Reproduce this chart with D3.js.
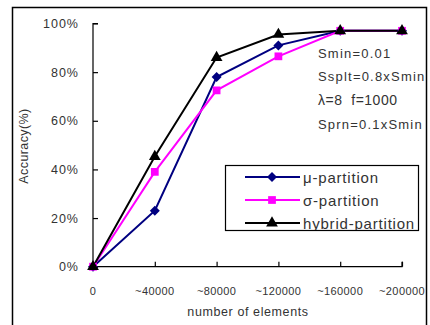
<!DOCTYPE html>
<html>
<head>
<meta charset="utf-8">
<script src="https://cdn.jsdelivr.net/npm/d3@7"></script>
<style>
  html, body { margin: 0; padding: 0; background: #fff; }
  svg { display: block; font-family: "Liberation Sans", Arial, sans-serif; }
  text { white-space: pre; }
</style>
</head>
<body>
<svg id="chart" width="430" height="325"></svg>
<script>
// Categories along the x axis and accuracy (%) per partition scheme
const categories = ["0", "~40000", "~80000", "~120000", "~160000", "~200000"];
const muValues = [0, 23, 78, 91, 97, 97];
const sigmaValues = [0, 39, 72.5, 86.5, 97, 97];
const hybridValues = [0, 45.3, 86, 95.5, 97, 97];
const yTicks = [0, 20, 40, 60, 80, 100];
const seriesNames = ["μ-partition", "σ-partition", "hybrid-partition"];
const notes = ["Smin=0.01", "Ssplt=0.8xSmin", "λ=8  f=1000", "Sprn=0.1xSmin"];

const svg = d3.select("#chart");

// Outer frame
svg.append("rect")
  .attr("x", 12.5).attr("y", 7.5).attr("width", 414).attr("height", 330)
  .attr("fill", "none").attr("stroke", "#000").attr("stroke-width", 1.5);

const x = d3.scalePoint().domain(categories).range([93, 402]);
const y = d3.scaleLinear().domain([0, 100]).range([266.7, 23.5]);

// Y axis, ticks pointing into the plot
const yAxis = svg.append("g").attr("transform", "translate(93,0)")
  .call(d3.axisRight(y).tickValues(yTicks).tickSize(5).tickFormat(""));
yAxis.select(".domain").attr("d", `M5,${y(100)}H0V${y(0)}`);
yAxis.selectAll("line, path").attr("stroke", "#000").attr("stroke-width", 1.2);

svg.append("g").selectAll("text").data(yTicks).join("text")
  .attr("x", 79).attr("y", d => y(d)).attr("dy", "0.36em")
  .attr("text-anchor", "end").attr("font-size", 12.5)
  .attr("letter-spacing", 1).attr("fill", "#333")
  .text(d => d + "%");

// X axis, ticks pointing up into the plot
const xAxis = svg.append("g").attr("transform", `translate(0,${y(0)})`)
  .call(d3.axisTop(x).tickSize(5).tickFormat(""));
xAxis.select(".domain").attr("d", `M${x(categories[0])},0H${x(categories[5])}V-5`);
xAxis.selectAll("line, path").attr("stroke", "#000").attr("stroke-width", 1.2);

svg.append("g").selectAll("text").data(categories).join("text")
  .attr("x", d => x(d)).attr("y", 291).attr("dy", "0.36em")
  .attr("text-anchor", "middle").attr("font-size", 11)
  .attr("letter-spacing", 0.4).attr("fill", "#333")
  .text(d => d);

// Axis titles
svg.append("text")
  .attr("x", 248).attr("y", 311).attr("dy", "0.36em")
  .attr("text-anchor", "middle").attr("font-size", 12.5).attr("fill", "#333")
  .attr("letter-spacing", 0.6)
  .text("number of elements");

svg.append("text")
  .attr("transform", "translate(23,146) rotate(-90)")
  .attr("dy", "0.36em").attr("text-anchor", "middle")
  .attr("font-size", 12.5).attr("fill", "#333").attr("letter-spacing", 0.4)
  .text("Accuracy(%)");

// Diamond drawn as a square turned by 45 degrees
const diamond = {
  draw(ctx, size) {
    const r = Math.sqrt(size / 2);
    ctx.moveTo(0, -r); ctx.lineTo(r, 0); ctx.lineTo(0, r); ctx.lineTo(-r, 0); ctx.closePath();
  }
};

// Series definitions
const series = [
  { name: seriesNames[0], values: muValues, color: "#000080", shape: diamond, size: 50 },
  { name: seriesNames[1], values: sigmaValues, color: "#ff00ff", shape: d3.symbolSquare, size: 60 },
  { name: seriesNames[2], values: hybridValues, color: "#000000", shape: d3.symbolTriangle, size: 60 }
];

const line = d3.line().x((d, i) => x(categories[i])).y(d => y(d));

series.forEach(s => {
  svg.append("path").datum(s.values)
    .attr("d", line).attr("fill", "none")
    .attr("stroke", s.color).attr("stroke-width", 2);
});
series.forEach(s => {
  svg.append("g").selectAll("path").data(s.values).join("path")
    .attr("transform", (d, i) => `translate(${x(categories[i])},${y(d)})`)
    .attr("d", d3.symbol().type(s.shape).size(s.size))
    .attr("fill", s.color);
});

// Parameter notes
svg.append("g").selectAll("text").data(notes).join("text")
  .attr("x", 318).attr("y", (d, i) => [53.5, 76.5, 99.5, 124.5][i]).attr("dy", "0.36em")
  .attr("font-size", (d, i) => i === 2 ? 14 : 13).attr("fill", "#333")
  .attr("letter-spacing", (d, i) => i === 2 ? 0.5 : 1.2)
  .text(d => d);

// Legend
const legend = svg.append("g");
legend.append("rect")
  .attr("x", 225.5).attr("y", 165.5).attr("width", 193).attr("height", 65)
  .attr("fill", "#fff").attr("stroke", "#000").attr("stroke-width", 1.2);
const clip = svg.append("clipPath").attr("id", "legclip");
clip.append("rect").attr("x", 226).attr("y", 166).attr("width", 192).attr("height", 64);
const rows = legend.append("g").attr("clip-path", "url(#legclip)");
const rowY = [177, 200, 223];
series.forEach((s, i) => {
  rows.append("line")
    .attr("x1", 245).attr("x2", 300).attr("y1", rowY[i]).attr("y2", rowY[i])
    .attr("stroke", s.color).attr("stroke-width", 2);
  rows.append("path")
    .attr("transform", `translate(272,${rowY[i]})`)
    .attr("d", d3.symbol().type(s.shape).size(s.size))
    .attr("fill", s.color);
  rows.append("text")
    .attr("x", 303).attr("y", rowY[i]).attr("dy", "0.38em")
    .attr("font-size", 15).attr("fill", "#333").attr("letter-spacing", 0.8)
    .text(s.name);
});
</script>
</body>
</html>
